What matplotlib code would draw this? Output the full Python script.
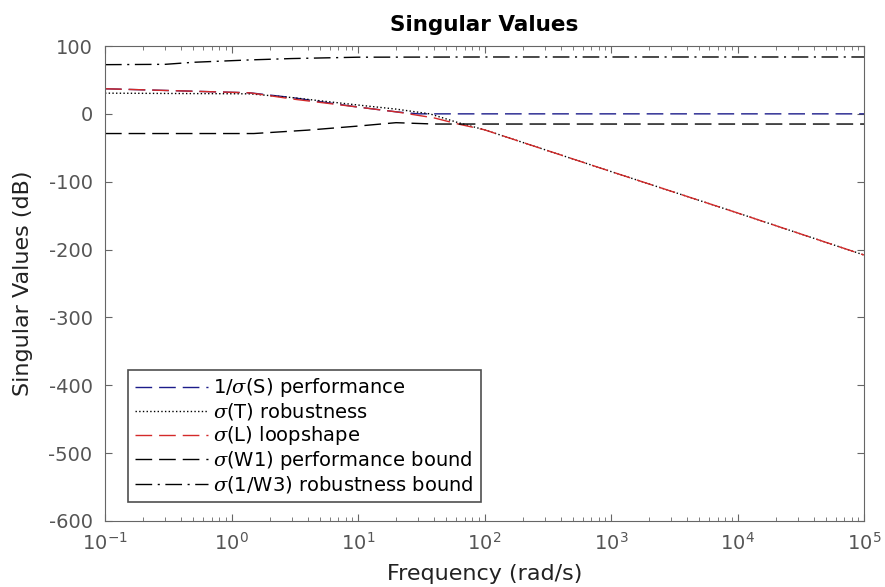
import numpy as np
import matplotlib.pyplot as plt

plt.rcParams['font.family'] = ['DejaVu Sans']
plt.rcParams['mathtext.fontset'] = 'dejavuserif'
plt.rcParams['axes.unicode_minus'] = False

# frequency points (rad/s) and singular values (dB)
w_S = [0.1, 1.4, 3, 10, 20, 30, 60, 100, 1e3, 1e4, 1e5]
sv_S = [37, 31, 24, 10, 3, 0, 0, 0, 0, 0, 0]

w_T = [0.1, 1.4, 3, 10, 20, 37, 62, 100, 1e3, 1e4, 1e5]
sv_T = [30.5, 29.5, 24, 13, 7, 0, -13, -23.5, -85, -146, -208]

w_L = [0.1, 1.4, 3, 10, 20, 40, 62, 100, 1e3, 1e4, 1e5]
sv_L = [37, 31, 22, 10, 3, -6, -15, -23.5, -85, -146, -208]

w_W1 = [0.1, 1.5, 4, 10, 20, 40, 100, 1e3, 1e4, 1e5]
sv_W1 = [-29, -29, -24, -18, -13, -15, -15, -15, -15, -15]

w_W3 = [0.1, 0.3, 0.5, 1.4, 3, 10, 100, 1e3, 1e4, 1e5]
sv_W3 = [72.5, 73, 76, 79.5, 81.5, 83.5, 83.8, 83.8, 83.8, 83.8]

fig = plt.figure(figsize=(8.85, 5.87), dpi=100)
ax = fig.add_axes([105 / 885, 66 / 587, 759 / 885, 475 / 587])

dash = (0, (12, 5))
ax.semilogx(w_S, sv_S, color='#1c1c8a', linestyle=dash, linewidth=1, label=r'1/$\sigma$(S) performance')
ax.semilogx(w_T, sv_T, color='black', linestyle=':', linewidth=1, label=r'$\sigma$(T) robustness')
ax.semilogx(w_L, sv_L, color='#d42a2a', linestyle=dash, linewidth=1, label=r'$\sigma$(L) loopshape')
ax.semilogx(w_W1, sv_W1, color='black', linestyle=dash, linewidth=1, label=r'$\sigma$(W1) performance bound')
ax.semilogx(w_W3, sv_W3, color='black', linestyle=(0, (12, 4, 1.5, 4)), linewidth=1, label=r'$\sigma$(1/W3) robustness bound')

ax.set_xlim(0.1, 1e5)
ax.set_ylim(-600, 100)
ax.set_yticks(np.arange(-600, 101, 100))
ax.set_xticks([1e-1, 1e0, 1e1, 1e2, 1e3, 1e4, 1e5])

ax.tick_params(which='both', direction='in', top=True, right=True, colors='#666666',
               labelsize=14, labelcolor='#555555')
ax.tick_params(axis='y', pad=9)
ax.tick_params(axis='x', pad=8)
ax.tick_params(which='major', length=5)
ax.tick_params(which='minor', length=3)
for s in ax.spines.values():
    s.set_color('#666666')

ax.set_title('Singular Values', fontsize=15.5, fontweight='bold', pad=11)
ax.set_xlabel('Frequency (rad/s)', fontsize=16, color='#222222', labelpad=7)
ax.set_ylabel('Singular Values (dB)', fontsize=16, color='#222222', labelpad=11)

leg = ax.legend(loc='lower left', bbox_to_anchor=(0.03, 0.04), fontsize=14, frameon=True,
                fancybox=False, edgecolor='#222222', handlelength=3.8, borderpad=0.35,
                labelspacing=0.1, handletextpad=0.25, borderaxespad=0)
leg.get_frame().set_linewidth(1.2)

fig.savefig('out.png', dpi=100)
